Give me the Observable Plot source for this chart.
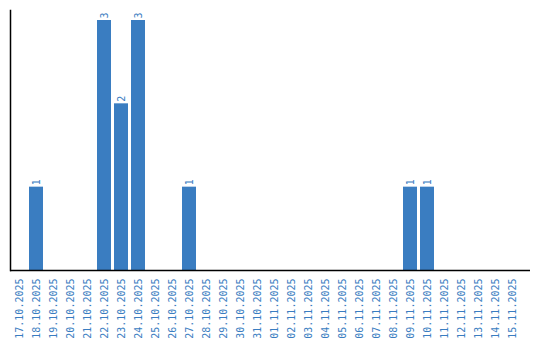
<!DOCTYPE html>
<html>
<head>
<meta charset="utf-8">
<script src="https://cdn.jsdelivr.net/npm/d3@7"></script>
<script src="https://cdn.jsdelivr.net/npm/@observablehq/plot@0.6"></script>
<style>
  html, body { margin: 0; padding: 0; background: #fff; }
  #chart svg { display: block; }
</style>
</head>
<body>
<div id="chart"></div>
<script>
const dates = [
  "17.10.2025","18.10.2025","19.10.2025","20.10.2025","21.10.2025","22.10.2025",
  "23.10.2025","24.10.2025","25.10.2025","26.10.2025","27.10.2025","28.10.2025",
  "29.10.2025","30.10.2025","31.10.2025","01.11.2025","02.11.2025","03.11.2025",
  "04.11.2025","05.11.2025","06.11.2025","07.11.2025","08.11.2025","09.11.2025",
  "10.11.2025","11.11.2025","12.11.2025","13.11.2025","14.11.2025","15.11.2025"
];
const counts = [
  0,1,0,0,0,3,
  2,3,0,0,1,0,
  0,0,0,0,0,0,
  0,0,0,0,0,1,
  1,0,0,0,0,0
];

const data = dates.map((d, i) => ({date: d, count: counts[i]}));
const blue = "#3a7dc1";

const chart = Plot.plot({
  width: 540,
  height: 340,
  marginTop: 10,
  marginLeft: 10,
  marginRight: 10,
  marginBottom: 70,
  style: {fontFamily: "'DejaVu Sans Mono', monospace", fontSize: "10px", background: "#fff"},
  x: {domain: dates, paddingInner: 0.18, paddingOuter: 0.09, insetLeft: 0.5, insetRight: 9.5, label: null},
  y: {domain: [0, 3.12], axis: null},
  marks: [
    Plot.barY(data, {x: "date", y: "count", fill: blue}),
    Plot.text(data.filter(d => d.count > 0), {
      x: "date", y: "count", text: d => String(d.count),
      rotate: -90, textAnchor: "start", lineAnchor: "middle",
      dy: -2, fill: blue, fontSize: 10
    }),
    Plot.axisX({
      tickSize: 0, tickPadding: 8, tickRotate: -90, fill: blue,
      fontSize: 10, label: null
    }),
    Plot.ruleY([0], {stroke: "#000", strokeWidth: 1.5}),
    Plot.frame({anchor: "left", stroke: "#000", strokeWidth: 1.5})
  ]
});
document.getElementById("chart").append(chart);
</script>
</body>
</html>
